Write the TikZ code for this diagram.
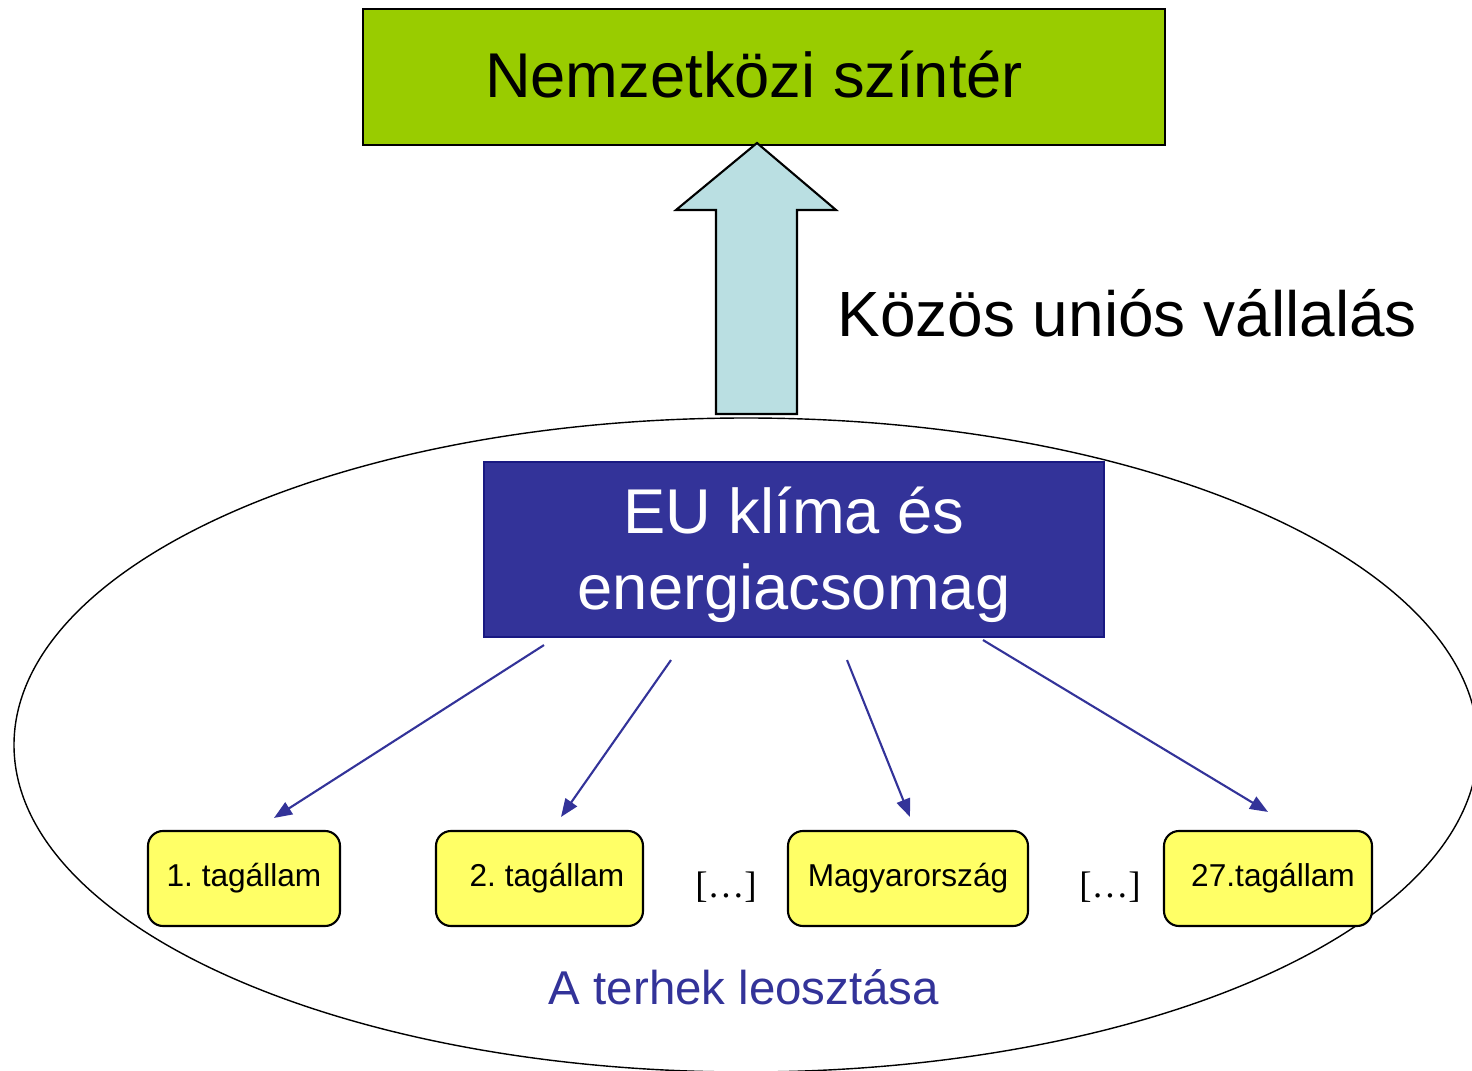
\documentclass[tikz,border=0pt]{standalone}
\usepackage{fontspec}
\setmainfont{Liberation Sans}
\newfontfamily\dotsfont{Liberation Serif}
\usetikzlibrary{arrows.meta}
\frenchspacing
\definecolor{scenegreen}{RGB}{153,204,0}
\definecolor{liftblue}{RGB}{186,223,226}
\definecolor{eublue}{RGB}{51,51,153}
\definecolor{eunavy}{RGB}{25,25,130}
\definecolor{stateyellow}{RGB}{255,255,102}
\tikzset{
  scene-box/.style={
    draw=black, line width=0.6pt, fill=scenegreen,
    minimum width=8.02cm, minimum height=1.36cm,
    font=\fontsize{18}{21.6}\selectfont
  },
  eu-box/.style={
    draw=eunavy, line width=0.6pt, fill=eublue, text=white,
    minimum width=6.2cm, minimum height=1.75cm,
    font=\fontsize{18}{21.4}\selectfont
  },
  state-box/.style={
    draw=black, line width=0.6pt, fill=stateyellow,
    rounded corners=0.15cm, minimum height=0.95cm,
    font=\fontsize{9}{11}\selectfont
  },
  lift-arrow/.style={draw=black, line width=0.6pt, fill=liftblue, line join=miter},
  lead-arrow/.style={draw=eublue, line width=0.6pt, -{Triangle[length=0.18cm,width=0.14cm]}},
  gap-dots/.style={font=\dotsfont\fontsize{10.5}{12}\selectfont}
}

\begin{document}
\begin{tikzpicture}
  \useasboundingbox (0,0) rectangle (14.72,-10.71);
  \clip (0,0) rectangle (14.72,-10.71);

  % Union boundary
  \draw[line width=0.4pt] (7.46,-7.45) ellipse [x radius=7.32cm, y radius=3.27cm];

  % Top box
  \node[scene-box] (scene) at (7.64,-0.77) {\hspace*{-0.2cm}\raisebox{0.05cm}{Nemzetközi színtér}};

  % Block arrow up to the international level
  \draw[lift-arrow]
    (7.57,-1.43) -- (8.36,-2.10) -- (7.97,-2.10) -- (7.97,-4.14)
    -- (7.16,-4.14) -- (7.16,-2.10) -- (6.76,-2.10) -- cycle;
  \node[anchor=west, font=\fontsize{18.2}{21.6}\selectfont] (pledge) at (8.25,-3.13) {Közös uniós vállalás};

  % EU package
  \node[eu-box] (eu) at (7.94,-5.495)
    {\raisebox{-0.07cm}[\height][\depth]{\begin{tabular}{@{}c@{}}EU klíma és\\energiacsomag\end{tabular}}};

  % Member states
  \node[state-box, minimum width=1.92cm] (m1) at (2.44,-8.785) {1. tagállam};
  \node[state-box, minimum width=2.07cm] (m2) at (5.395,-8.785) {\hspace{0.15cm}2. tagállam};
  \node[state-box, minimum width=2.40cm] (m3) at (9.08,-8.785) {Magyarország};
  \node[state-box, minimum width=2.08cm] (m4) at (12.68,-8.785) {\hspace{0.1cm}27.tagállam};
  \node[gap-dots] (dots1) at (7.26,-8.87) {[…]};
  \node[gap-dots] (dots2) at (11.10,-8.87) {[…]};

  % Sharing out the burden
  \draw[lead-arrow] ([xshift=-2.50cm,yshift=-0.07cm]eu.south) -- ([xshift=0.30cm,yshift=0.12cm]m1.north);
  \draw[lead-arrow] ([xshift=-1.23cm,yshift=-0.22cm]eu.south) -- ([xshift=0.215cm,yshift=0.13cm]m2.north);
  \draw[lead-arrow] ([xshift=0.53cm,yshift=-0.22cm]eu.south) -- ([xshift=0.02cm,yshift=0.13cm]m3.north);
  \draw[lead-arrow] ([xshift=1.89cm,yshift=-0.02cm]eu.south) -- ([xshift=0cm,yshift=0.18cm]m4.north);

  \node[text=eublue, font=\fontsize{13.5}{16}\selectfont] (share) at (7.44,-9.87) {A terhek leosztása};
\end{tikzpicture}
\end{document}
